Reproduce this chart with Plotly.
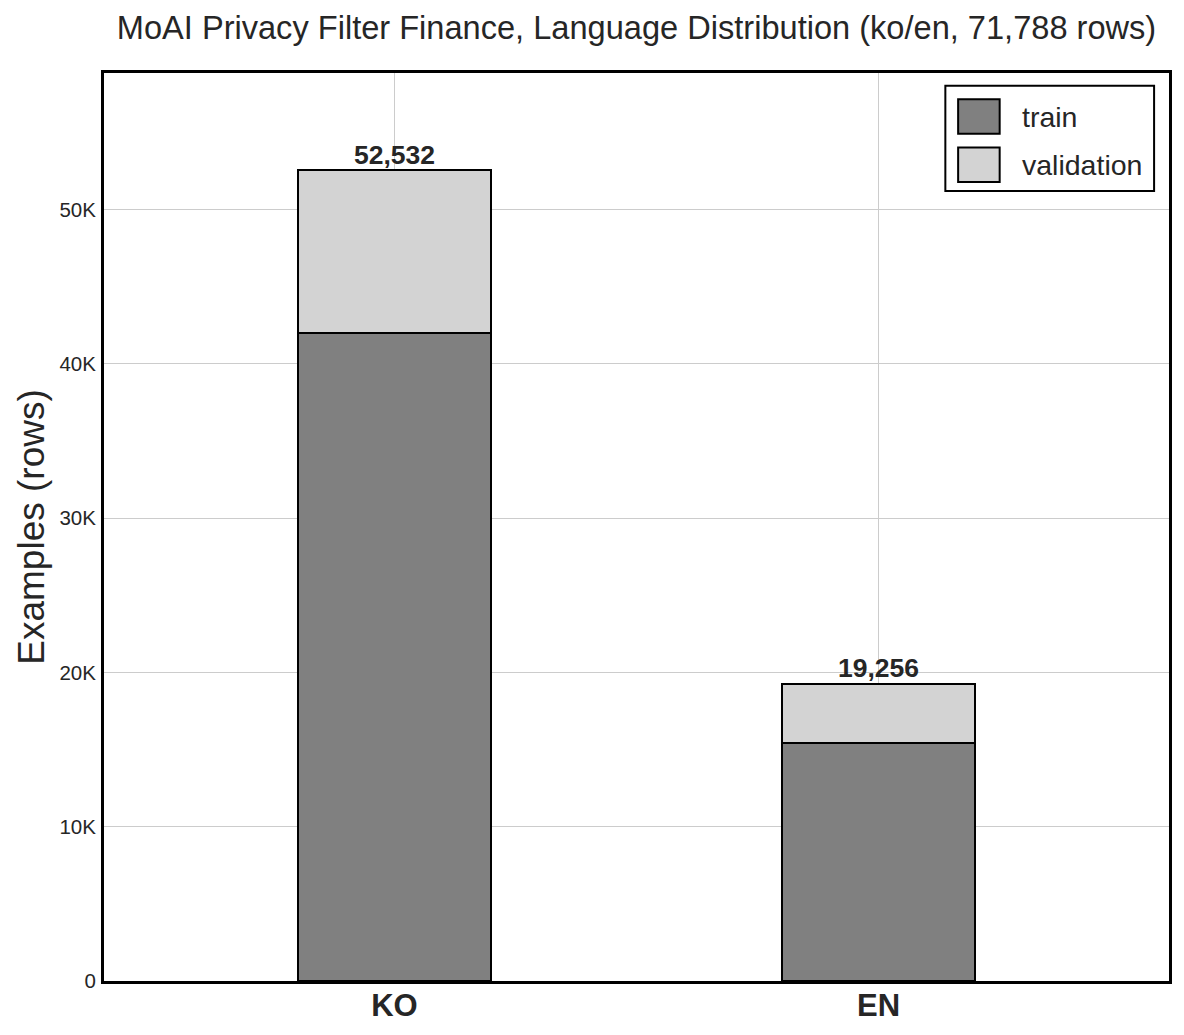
import plotly.graph_objects as go

languages = ["KO", "EN"]
train_rows = [42026, 15405]
validation_rows = [10506, 3851]
total_rows = [52532, 19256]
total_labels = ["52,532", "19,256"]
y_ticks = [0, 10000, 20000, 30000, 40000, 50000]
y_tick_labels = ["0", "10K", "20K", "30K", "40K", "50K"]

font_family = "Liberation Sans, Arial, sans-serif"
text_color = "#262626"

fig = go.Figure()
fig.add_trace(go.Bar(
    x=languages, y=train_rows, name="train",
    marker={'color': "#808080", 'line': {'color': "black", 'width': 2}},
    width=0.4,
))
fig.add_trace(go.Bar(
    x=languages, y=validation_rows, name="validation",
    marker={'color': "#d3d3d3", 'line': {'color': "black", 'width': 2}},
    width=0.4,
))
fig.add_trace(go.Scatter(
    x=languages, y=total_rows, mode="text", text=total_labels,
    textposition="top center",
    textfont={'family': font_family, 'size': 26.5, 'color': text_color, 'weight': "bold"},
    showlegend=False, hoverinfo="skip",
))

# legend drawn by hand so the swatches can be as big as in the reference
legend_items = [("train", "#808080"), ("validation", "#d3d3d3")]
shapes = [dict(type="rect", xref="paper", yref="paper",
               x0=0.790, x1=0.986, y0=0.870, y1=0.986,
               line={'color': "black", 'width': 2}, fillcolor="white")]
annotations = []
for i, (label, color) in enumerate(legend_items):
    yc = 0.952 - i * 0.053
    shapes.append(dict(type="rect", xref="paper", yref="paper",
                       x0=0.802, x1=0.841, y0=yc - 0.019, y1=yc + 0.019,
                       line={'color': "black", 'width': 2}, fillcolor=color))
    annotations.append(dict(text=label, xref="paper", yref="paper",
                            x=0.860, y=yc, xanchor="left", yanchor="middle",
                            showarrow=False,
                            font={'family': font_family, 'size': 28.5, 'color': text_color}))

fig.update_layout(
    barmode="stack",
    width=1184,
    height=1035,
    paper_bgcolor="white",
    plot_bgcolor="white",
    showlegend=False,
    shapes=shapes,
    annotations=annotations,
    margin={'l': 104, 'r': 14, 't': 73, 'b': 48},
    font={'family': font_family, 'color': text_color},
    title={
        'text': "MoAI Privacy Filter Finance, Language Distribution (ko/en, 71,788 rows)",
        'x': 0.5, 'xref': "paper", 'xanchor': "center",
        'y': 0.973, 'yanchor': "middle",
        'font': {'size': 32.6, 'color': text_color},
    },
    xaxis={
        'range': [-0.6, 1.6],
        'showgrid': True, 'gridcolor': "#cccccc", 'gridwidth': 1,
        'showline': True, 'linecolor': "black", 'linewidth': 3, 'mirror': True,
        'ticks': "", 'ticklabelstandoff': -5,
        'tickfont': {'size': 31, 'weight': "bold", 'color': text_color},
    },
    yaxis={
        'range': [0, 58850],
        'tickvals': y_ticks, 'ticktext': y_tick_labels,
        'showgrid': True, 'gridcolor': "#cccccc", 'gridwidth': 1,
        'zeroline': False,
        'showline': True, 'linecolor': "black", 'linewidth': 3, 'mirror': True,
        'ticks': "", 'ticklabelstandoff': 1,
        'tickfont': {'size': 20.5, 'color': text_color},
        'title': {'text': "Examples (rows)", 'font': {'size': 37, 'color': text_color}, 'standoff': 4},
    },
)

fig.write_html("out.html", config={'displayModeBar': False},
               post_script="document.body.style.margin='0';")
